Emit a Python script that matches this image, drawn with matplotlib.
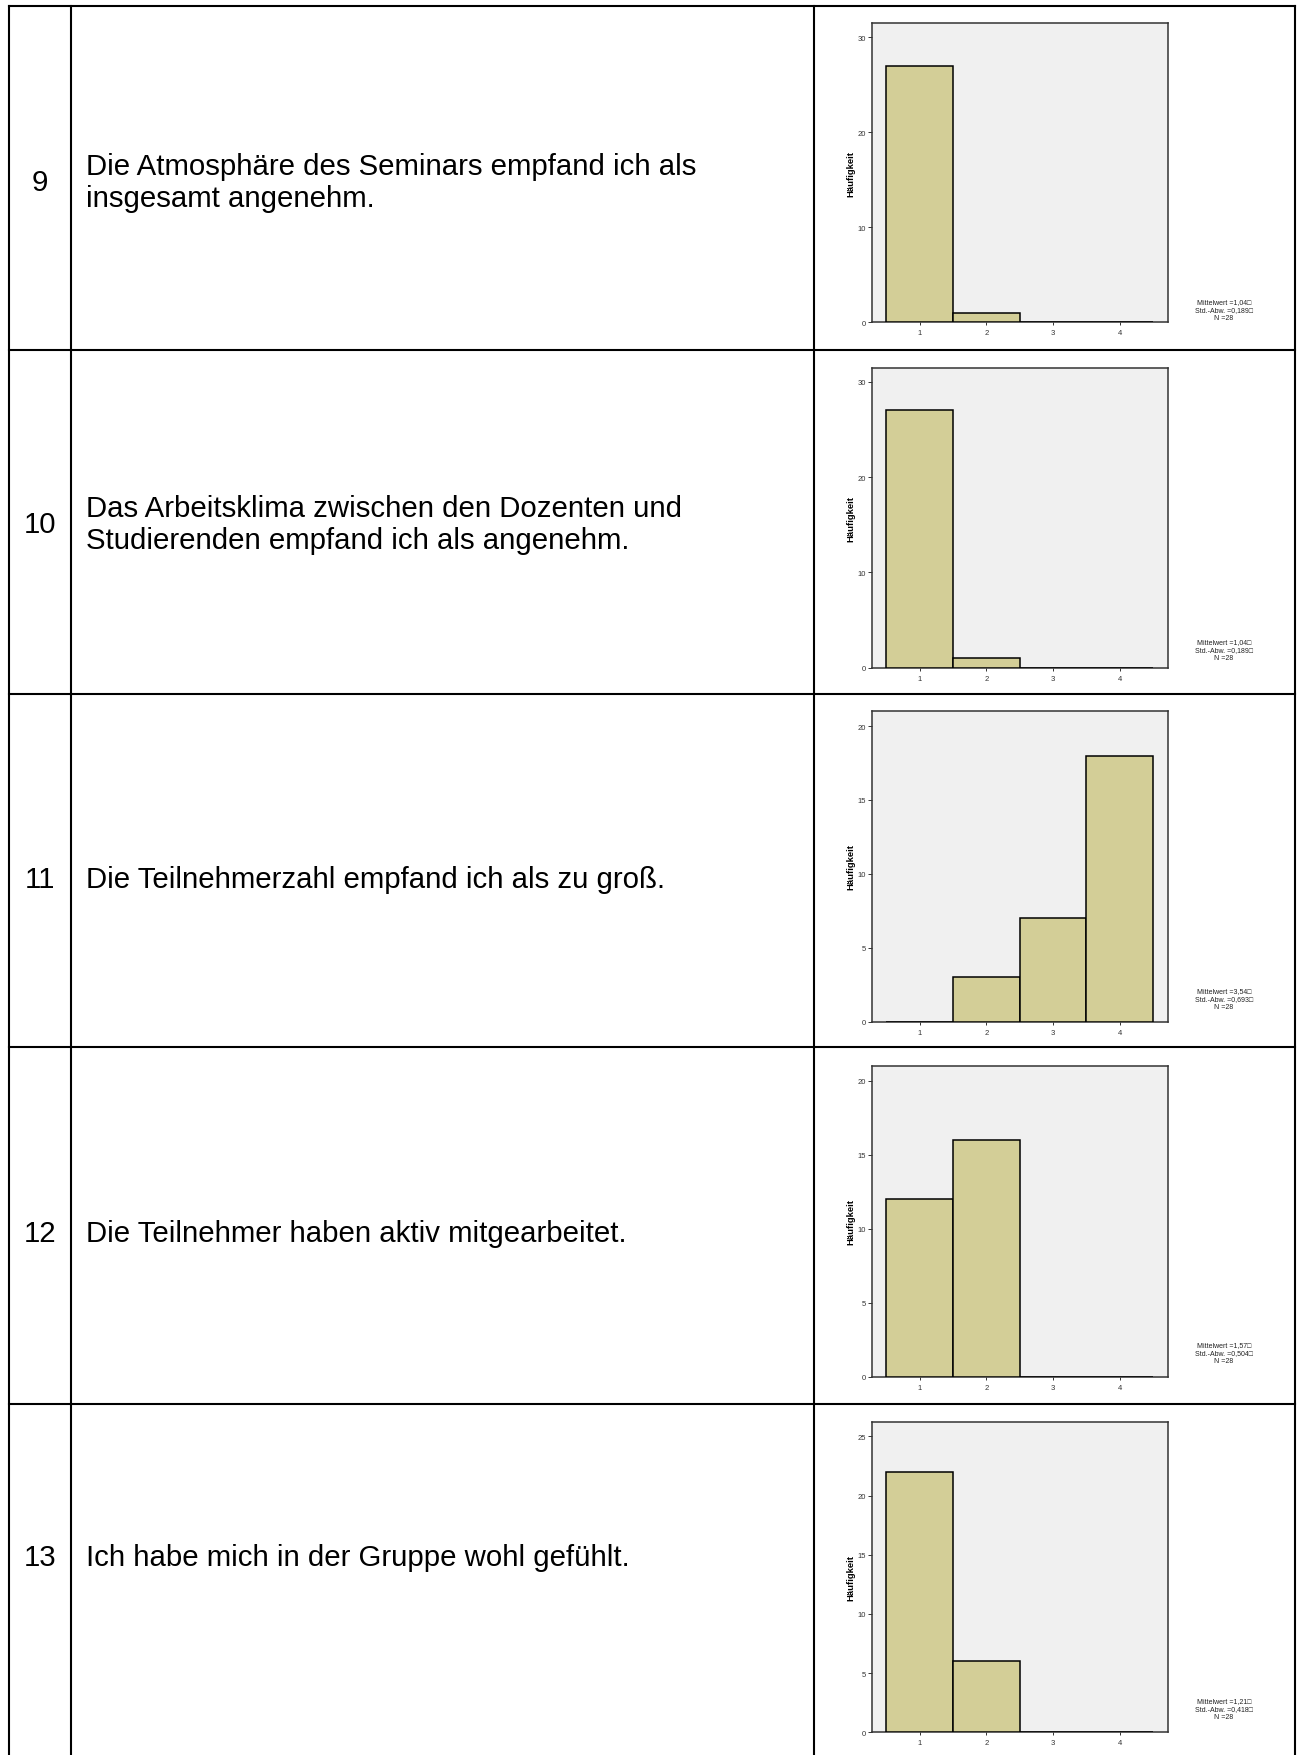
import matplotlib
matplotlib.use('Agg')
import matplotlib.pyplot as plt
from matplotlib.lines import Line2D

# ---------------- data ----------------
question_numbers = ['9', '10', '11', '12', '13']
question_texts = [
    'Die Atmosphäre des Seminars empfand ich als\ninsgesamt angenehm.',
    'Das Arbeitsklima zwischen den Dozenten und\nStudierenden empfand ich als angenehm.',
    'Die Teilnehmerzahl empfand ich als zu groß.',
    'Die Teilnehmer haben aktiv mitgearbeitet.',
    'Ich habe mich in der Gruppe wohl gefühlt.',
]
categories = [1, 2, 3, 4]
counts_q9 = [27, 1, 0, 0]
counts_q10 = [27, 1, 0, 0]
counts_q11 = [0, 3, 7, 18]
counts_q12 = [12, 16, 0, 0]
counts_q13 = [22, 6, 0, 0]
all_counts = [counts_q9, counts_q10, counts_q11, counts_q12, counts_q13]
means = ['1,04', '1,04', '3,54', '1,57', '1,21']
std_devs = ['0,189', '0,189', '0,693', '0,504', '0,418']
n_values = ['28', '28', '28', '28', '28']
y_tick_max = [30, 30, 20, 20, 25]
y_tick_step = [10, 10, 5, 5, 5]

# ---------------- layout (pixels) ----------------
W, H = 1297, 1756
DPI = 100
row_lines = [7, 351, 695, 1048, 1405]
col_lines = [8.5, 71, 814, 1294.5]
text_y = [183, 525, 880, 1234, 1558]
ax_left, ax_right = 871.7, 1167.7
ax_tops = [24, 368.5, 712.3, 1067, 1422.7]
ax_bottoms = [323.3, 668.6, 1022.7, 1377.6, 1733.3]
stat_last_y = [319, 658.6, 1008, 1362, 1718]
stat_x = 1224

FONT = ['Liberation Sans', 'DejaVu Sans']
plt.rcParams['font.family'] = FONT

fig = plt.figure(figsize=(W / DPI, H / DPI), dpi=DPI)
fig.patch.set_facecolor('white')


def fx(x):
    return x / W


def fy(y):
    return 1 - y / H


# table lines
lw_table = 1.5
for y in row_lines:
    fig.add_artist(Line2D([fx(col_lines[0]), fx(col_lines[-1])], [fy(y), fy(y)],
                          color='black', lw=lw_table, solid_capstyle='projecting'))
for x in col_lines:
    fig.add_artist(Line2D([fx(x), fx(x)], [fy(row_lines[0]), fy(H + 5)],
                          color='black', lw=lw_table, solid_capstyle='projecting'))

bar_color = '#D3CE97'
for i in range(5):
    # texts
    fig.text(fx((col_lines[0] + col_lines[1]) / 2), fy(text_y[i]), question_numbers[i],
             ha='center', va='center', fontsize=21.2, color='black')
    fig.text(fx(86), fy(text_y[i]), question_texts[i], ha='left', va='center',
             fontsize=21.2, color='black', linespacing=1.2)

    top, bottom = ax_tops[i], ax_bottoms[i]
    ax = fig.add_axes([fx(ax_left), fy(bottom), fx(ax_right - ax_left), (bottom - top) / H])
    ax.set_facecolor('#F0F0F0')
    ax.bar(categories, all_counts[i], width=1.0, color=bar_color,
           edgecolor='black', linewidth=1.1, zorder=3)
    ax.set_xlim(0.28, 4.72)
    ax.set_ylim(0, y_tick_max[i] * 1.05)
    ax.set_yticks(list(range(0, y_tick_max[i] + 1, y_tick_step[i])))
    ax.set_xticks(categories)
    ax.tick_params(axis='y', labelsize=5.5, length=3, width=0.7, pad=1, colors='#333333')
    ax.tick_params(axis='x', labelsize=5.5, length=2, width=0.7, pad=3, colors='#333333')
    for s in ax.spines.values():
        s.set_color('#333333')
        s.set_linewidth(1.1)
    ax.set_ylabel('Häufigkeit', fontsize=6.8, fontweight='bold', labelpad=1.5)

    stats = ['Mittelwert =' + means[i] + '\u25a1',
             'Std.-Abw. =' + std_devs[i] + '\u25a1',
             'N =' + n_values[i]]
    for k, s in enumerate(stats):
        fig.text(fx(stat_x), fy(stat_last_y[i] - (2 - k) * 8), s, ha='center', va='center',
                 fontsize=5, color='#222222', family=FONT)

fig.savefig('out.png', dpi=DPI)
